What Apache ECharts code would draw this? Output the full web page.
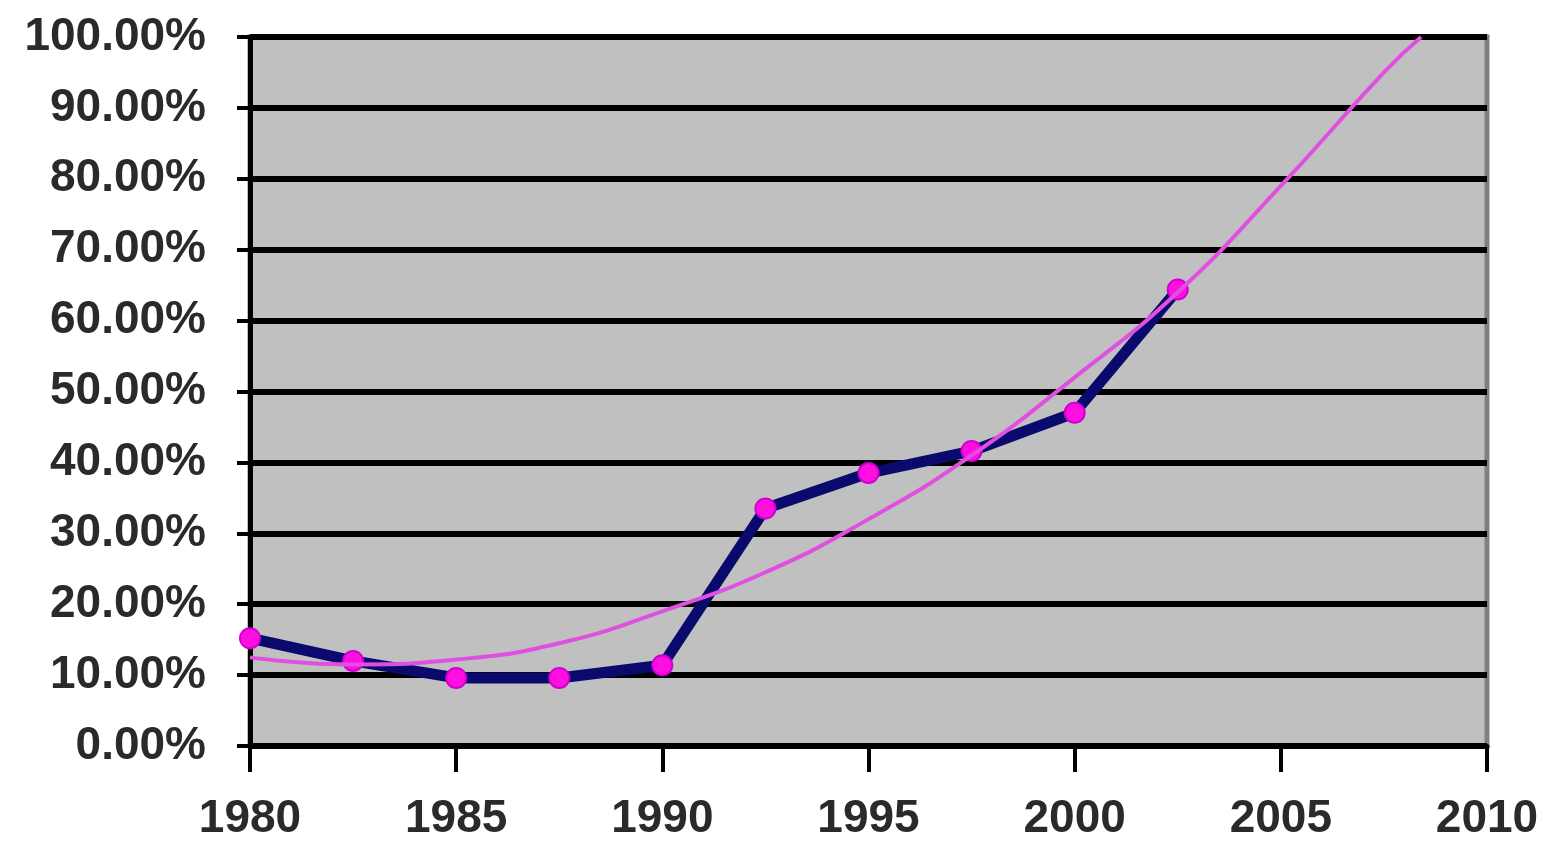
<!DOCTYPE html>
<html><head><meta charset="utf-8">
<script src="https://cdn.jsdelivr.net/npm/echarts@6/dist/echarts.min.js"></script>
<style>html,body{margin:0;padding:0;background:#fff}#c{width:1548px;height:842px}</style>
</head><body><div id="c"></div>
<script>
const years = [1980, 1982.5, 1985, 1987.5, 1990, 1992.5, 1995, 1997.5, 2000, 2002.5];
const values = [0.152, 0.12, 0.096, 0.096, 0.114, 0.335, 0.385, 0.416, 0.47, 0.644];
const trendYears = [1980, 1982.5, 1985, 1987.5, 1990, 1992.5, 1995, 1997.5, 2000, 2002.5, 2005, 2007.5, 2008.4];
const trendValues = [0.125, 0.115, 0.122, 0.145, 0.19, 0.245, 0.32, 0.41, 0.52, 0.64, 0.79, 0.95, 1.0];

const chart = echarts.init(document.getElementById('c'));
const font = { fontFamily: 'Liberation Sans, Arial, sans-serif', fontSize: 46, fontWeight: 'bold', color: '#2a2a2a' };
chart.setOption({
  animation: false,
  grid: { left: 250, right: 61, top: 37, bottom: 94, show: true, backgroundColor: '#c0c0c0', borderColor: '#808080', borderWidth: 5 },
  xAxis: {
    type: 'value', min: 1980, max: 2010, interval: 5,
    axisLine: { show: true, lineStyle: { color: '#000', width: 5 } },
    axisTick: { show: true, length: 26, lineStyle: { color: '#000', width: 4 } },
    axisLabel: Object.assign({ margin: 50, formatter: v => String(v) }, font),
    splitLine: { show: false }
  },
  yAxis: {
    type: 'value', min: 0, max: 1, interval: 0.1,
    axisLine: { show: true, lineStyle: { color: '#000', width: 5 } },
    axisTick: { show: true, length: 13, lineStyle: { color: '#000', width: 4 } },
    axisLabel: Object.assign({ margin: 44, formatter: v => (v * 100).toFixed(2) + '%' }, font),
    splitLine: { show: true, lineStyle: { color: '#000', width: 6 } }
  },
  series: [
    {
      type: 'line', data: years.map((y, i) => [y, values[i]]),
      lineStyle: { color: '#0a0a6e', width: 11 },
      symbol: 'circle', symbolSize: 20,
      itemStyle: { color: '#ff10e0', borderColor: '#d000d0', borderWidth: 2 },
      z: 3
    },
    {
      type: 'line', data: trendYears.map((y, i) => [y, trendValues[i]]),
      smooth: true, showSymbol: false,
      lineStyle: { color: '#e050e0', width: 4 },
      z: 4
    }
  ]
});
</script></body></html>
